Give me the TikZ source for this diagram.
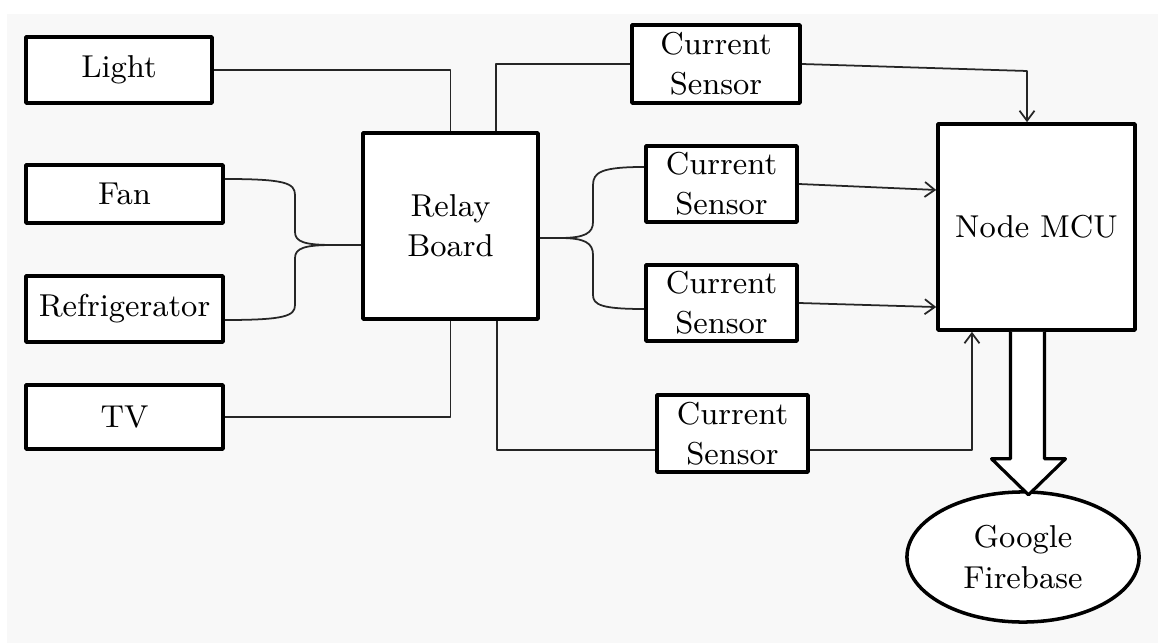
\documentclass[tikz,border=0pt]{standalone}
\usepackage{amsmath,amssymb}
\usetikzlibrary{arrows.meta,shapes.geometric}
\definecolor{bggray}{HTML}{F8F8F8}

\begin{document}
\begin{tikzpicture}[line join=round,>={Straight Barb[length=1mm,width=1.5mm]},x=0.01cm,y=-0.01cm,
    blk/.style={draw,line width=1pt,fill=white,align=center,inner sep=0pt,font=\fontsize{9}{11.4}\selectfont},
    wire/.style={line width=0.5pt,color=black!85}]
     \fill[white] (0,0) rectangle (1158,643); % Rand
     \fill[bggray] (7,14) rectangle (1158,643); % Hintergrund

     % loads on the left
     \node[blk,minimum width=1.86cm,minimum height=0.66cm] (light)  at (119,70)    {Light};
     \node[blk,minimum width=1.97cm,minimum height=0.58cm] (fan)    at (124.5,194) {Fan};
     \node[blk,minimum width=1.97cm,minimum height=0.66cm] (fridge) at (124.5,309) {Refrigerator};
     \node[blk,minimum width=1.97cm,minimum height=0.64cm] (tv)     at (124.5,417) {TV};

     \node[blk,minimum width=1.75cm,minimum height=1.86cm] (relay) at (450.5,226) {Relay\\Board};

     % current sensors
     \node[blk,minimum width=1.68cm,minimum height=0.78cm] (cs1) at (716,64)      {Current\\Sensor};
     \node[blk,minimum width=1.51cm,minimum height=0.76cm] (cs2) at (721.5,184)   {Current\\Sensor};
     \node[blk,minimum width=1.51cm,minimum height=0.76cm] (cs3) at (721.5,303)   {Current\\Sensor};
     \node[blk,minimum width=1.51cm,minimum height=0.77cm] (cs4) at (732.5,433.5) {Current\\Sensor};

     \node[blk,minimum width=1.97cm,minimum height=2.06cm] (mcu) at (1036.5,227) {Node MCU};
     \node[blk,ellipse,minimum width=2.32cm,minimum height=1.3cm] (fire) at (1023,557) {Google\\Firebase};

     % relay board wiring
     \draw[wire] (light.east) -| (relay.north); % Light
     \draw[wire] (tv.east) -| (relay.south); % TV
     \draw[wire] ([yshift=0.15cm]fan.east) .. controls (285,179) and (295,183) .. (295,195)
        -- (295,232) .. controls (295,242) and (305,245) .. (333,245) -- ([yshift=-0.19cm]relay.west); % Fan
     \draw[wire] ([yshift=-0.11cm]fridge.east) .. controls (285,320) and (295,316) .. (295,305)
        -- (295,258) .. controls (295,248) and (305,245) .. (333,245); % Refrigerator
     \draw[wire] ([yshift=-0.12cm]relay.east) -- (560,238) .. controls (585,238) and (593,233) .. (593,222)
        -- (593,185) .. controls (593,172) and (602,167) .. ([yshift=0.17cm]cs2.west); % oben
     \draw[wire] (560,238) .. controls (585,238) and (593,243) .. (593,255)
        -- (593,295) .. controls (593,305) and (602,309) .. ([yshift=-0.06cm]cs3.west); % unten
     \draw[wire] ([xshift=-0.44cm]relay.north east) |- (cs1.west);
     \draw[wire] ([xshift=-0.43cm]relay.south east) |- ([yshift=-0.165cm]cs4.west);

     % sensors to Node MCU
     \coordinate (k1) at (1027,71);
     \draw[wire,->] (cs1.east) -- (k1) -- (k1 |- mcu.north);
     \draw[wire,->] (cs2.east) -- ([yshift=0.37cm]mcu.west);
     \draw[wire,->] (cs3.east) -- ([yshift=-0.8cm]mcu.west);
     \draw[wire,->] ([yshift=-0.165cm]cs4.east) -| ([xshift=-0.645cm]mcu.south);

     % hollow arrow down to the cloud
     \draw[line width=0.9pt,fill=white] ([xshift=-0.26cm]mcu.south) -- ++(0,127) -- ++(-19,0)
        -- ++(37,36) -- ++(37,-36) -- ++(-21,0) -- ++(0,-127);
\end{tikzpicture}
\end{document}
